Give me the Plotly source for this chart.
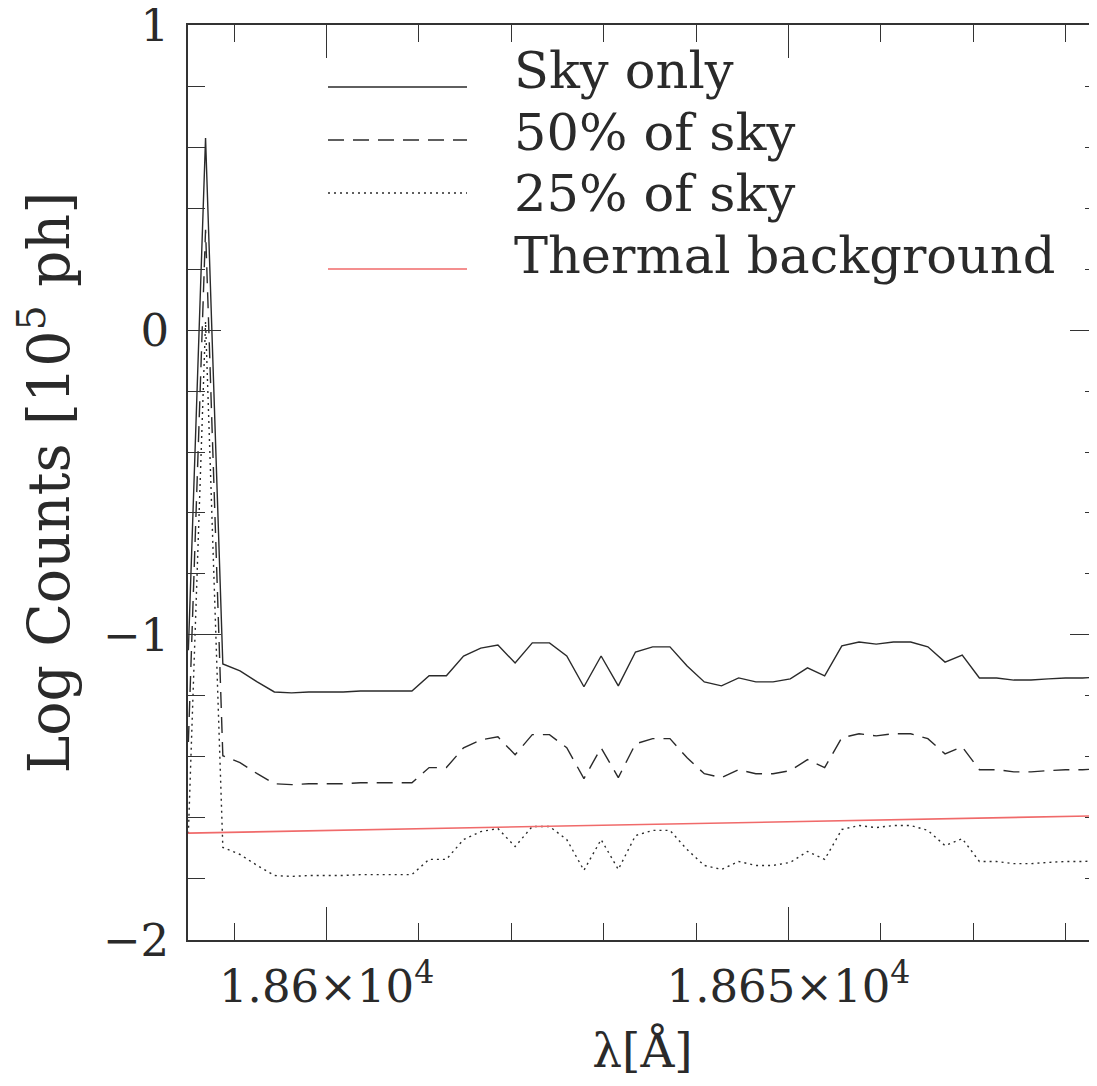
import plotly.graph_objects as go

# ---- data ----
wavelength = [18585.04, 18586.90, 18588.77, 18590.63, 18592.49, 18594.35, 18596.21,
              18598.07, 18599.94, 18601.80, 18603.66, 18605.52, 18607.38, 18609.24,
              18611.10, 18612.97, 18614.83, 18616.69, 18618.55, 18620.41, 18622.27,
              18624.13, 18626.00, 18627.86, 18629.72, 18631.58, 18633.44, 18635.30,
              18637.17, 18639.03, 18640.89, 18642.75, 18644.61, 18646.47, 18648.33,
              18650.20, 18652.06, 18653.92, 18655.78, 18657.64, 18659.50, 18661.36,
              18663.23, 18665.09, 18666.95, 18668.81, 18670.67, 18672.53, 18674.40,
              18676.26, 18678.12, 18679.98, 18681.84, 18683.70]

sky_only = [-1.05, 0.63, -1.095, -1.118, -1.154, -1.187, -1.190, -1.187, -1.187, -1.187,
            -1.184, -1.184, -1.184, -1.184, -1.134, -1.134, -1.069, -1.043, -1.033, -1.092,
            -1.026, -1.026, -1.069, -1.170, -1.069, -1.167, -1.056, -1.039, -1.039, -1.102,
            -1.154, -1.167, -1.141, -1.154, -1.154, -1.144, -1.108, -1.134, -1.036, -1.023,
            -1.030, -1.023, -1.023, -1.039, -1.089, -1.066, -1.141, -1.141, -1.148, -1.148,
            -1.144, -1.141, -1.141, -1.138]

sky_50 = [-1.351, 0.329, -1.396, -1.419, -1.455, -1.488, -1.491, -1.488, -1.488, -1.488,
          -1.485, -1.485, -1.485, -1.485, -1.435, -1.435, -1.370, -1.344, -1.334, -1.393,
          -1.327, -1.327, -1.370, -1.471, -1.370, -1.468, -1.357, -1.340, -1.340, -1.403,
          -1.455, -1.468, -1.442, -1.455, -1.455, -1.445, -1.409, -1.435, -1.337, -1.324,
          -1.331, -1.324, -1.324, -1.340, -1.390, -1.367, -1.442, -1.442, -1.449, -1.449,
          -1.445, -1.442, -1.442, -1.439]

sky_25 = [-1.652, 0.028, -1.697, -1.720, -1.756, -1.789, -1.792, -1.789, -1.789, -1.789,
          -1.786, -1.786, -1.786, -1.786, -1.736, -1.736, -1.671, -1.645, -1.635, -1.694,
          -1.628, -1.628, -1.671, -1.772, -1.671, -1.769, -1.658, -1.641, -1.641, -1.704,
          -1.756, -1.769, -1.743, -1.756, -1.756, -1.746, -1.710, -1.736, -1.638, -1.625,
          -1.632, -1.625, -1.625, -1.641, -1.691, -1.668, -1.743, -1.743, -1.750, -1.750,
          -1.746, -1.743, -1.743, -1.740]

thermal_wl = [18585.0, 18610.0, 18635.0, 18660.0, 18684.0]
thermal = [-1.650, -1.636, -1.622, -1.607, -1.593]

legend_labels = ["Sky only", "50% of sky", "25% of sky", "Thermal background"]

x_tickvals = [18600, 18650]
x_ticktext = ["1.86×10<sup>4</sup>", "1.865×10<sup>4</sup>"]
y_tickvals = [-2, -1, 0, 1]
y_ticktext = ["−2", "−1", "0", "1"]

# ---- styling ----
FONT = "DejaVu Serif"
INK = "#2a2a2a"
AX = "#333333"
RED = "#f06a6a"
# the page has an 8px body margin; keep the figure inside the window
OFF = 8
W, H = 1089, 1070
ML, MR, MT, MB = 180, 0, 17, 138
PW, PH = W - ML - MR, H - MT - MB

styles = [
    dict(color=INK, width=1.4, dash="solid"),
    dict(color=INK, width=1.4, dash="16px,9px"),
    dict(color=INK, width=1.4, dash="2px,4px"),
    dict(color=RED, width=1.6, dash="solid"),
]

fig = go.Figure()
series = [(wavelength, sky_only), (wavelength, sky_50), (wavelength, sky_25), (thermal_wl, thermal)]
for (xs, ys), st, name in zip(series, styles, legend_labels):
    fig.add_trace(go.Scatter(x=xs, y=ys, mode="lines", line=st, name=name,
                             showlegend=False, hoverinfo="skip"))

# invisible trace on the right-hand axis (carries the right-side ticks)
fig.add_trace(go.Scatter(x=[18600], y=[0], yaxis="y2", mode="markers",
                         marker=dict(opacity=0), showlegend=False, hoverinfo="skip"))

# manual legend (positions in page pixels)
def px_x(p):
    return (p - OFF - ML) / PW

def px_y(p):
    return (OFF + MT + PH - p) / PH

line_y = [87, 140, 193, 269]
text_y = [71, 133, 194, 256]
shapes = []
annotations = []
for st, ly, ty, lab in zip(styles, line_y, text_y, legend_labels):
    shapes.append(dict(type="line", xref="paper", yref="paper",
                       x0=px_x(328), x1=px_x(467), y0=px_y(ly), y1=px_y(ly),
                       line=st))
    annotations.append(dict(xref="paper", yref="paper", x=px_x(512), y=px_y(ty),
                            xanchor="left", yanchor="middle", text=lab, showarrow=False,
                            font=dict(family=FONT, size=51, color=INK)))

axis_common = dict(showgrid=False, zeroline=False, showline=True, linecolor=AX,
                   linewidth=1.5, ticks="inside", tickcolor=AX, tickwidth=1.3,
                   ticklabeloverflow="allow", automargin=False,
                   tickfont=dict(family=FONT, size=45, color=INK))

fig.update_layout(
    width=W, height=H,
    margin=dict(l=ML, r=MR, t=MT, b=MB, pad=0, autoexpand=False),
    paper_bgcolor="white", plot_bgcolor="white",
    shapes=shapes, annotations=annotations,
    xaxis=dict(axis_common, range=[18585, 18683.4], mirror="ticks",
               tickmode="array", tickvals=x_tickvals, ticktext=x_ticktext, ticklen=33,
               minor=dict(ticks="inside", dtick=10, tick0=18580, ticklen=17,
                          tickcolor=AX, tickwidth=1.3),
               ticklabelstandoff=6,
               title=dict(text="λ[Å]", font=dict(family=FONT, size=47, color=INK), standoff=28)),
    yaxis=dict(axis_common, range=[-2.0005, 1.0005], mirror=False,
               tickmode="array", tickvals=y_tickvals, ticktext=y_ticktext, ticklen=33,
               minor=dict(ticks="inside", dtick=0.2, tick0=0, ticklen=17,
                          tickcolor=AX, tickwidth=1.3),
               ticklabelstandoff=8,
               title=dict(text="Log Counts [10<sup>5</sup> ph]",
                          font=dict(family=FONT, size=57, color=INK), standoff=28)),
    yaxis2=dict(overlaying="y", side="right", range=[-2.0005, 1.0005], showline=False,
                showgrid=False, zeroline=False, showticklabels=False, automargin=False,
                ticks="inside", tickmode="array", tickvals=y_tickvals, ticklen=27,
                tickcolor=AX, tickwidth=1.3,
                minor=dict(ticks="inside", dtick=0.2, tick0=0, ticklen=12,
                           tickcolor=AX, tickwidth=1.3)),
)

fig.write_html("out.html")
